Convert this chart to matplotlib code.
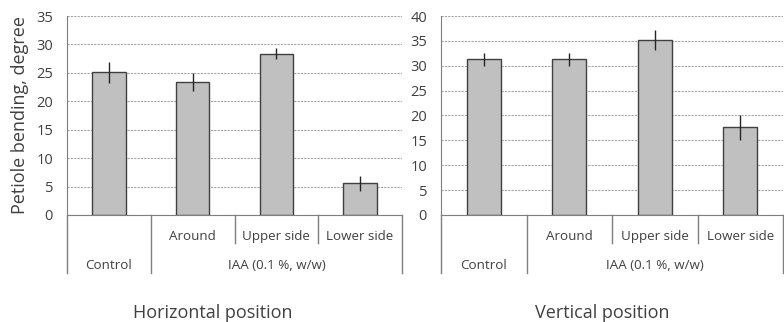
import matplotlib.pyplot as plt
import numpy as np

plt.rcParams['font.family'] = ['Open Sans', 'DejaVu Sans']

sub_labels = ['', 'Around', 'Upper side', 'Lower side']
group_labels = ['Control', 'IAA (0.1 %, w/w)']

horiz_mean = [25.1, 23.4, 28.4, 5.6]
horiz_err = [1.8, 1.6, 1.0, 1.3]
vert_mean = [31.3, 31.3, 35.1, 17.6]
vert_err = [1.3, 1.3, 2.0, 2.6]

txt = '#404040'
line = '#7f7f7f'

fig = plt.figure(figsize=(7.84, 3.22), dpi=100)
W, H = 784.0, 322.0


def panel(px_left, px_right, ymax, means, errs, title, title_x):
    ax = fig.add_axes([px_left / W, (H - 215) / H, (px_right - px_left) / W, 199 / H])
    x = np.arange(len(means))
    ax.bar(x, means, width=0.4, color='#c0c0c0', edgecolor='#404040', linewidth=1.0, zorder=3)
    ax.errorbar(x, means, yerr=errs, fmt='none', ecolor='#262626', elinewidth=1.0, capsize=0, zorder=4)
    ax.set_xlim(-0.5, 3.5)
    ax.set_ylim(0, ymax)
    ax.set_yticks(np.arange(0, ymax + 1, 5))
    ax.yaxis.grid(True, linestyle=(0, (2, 1)), color='#a6a6a6', linewidth=0.8, zorder=0)
    ax.tick_params(axis='y', length=0, pad=10, labelsize=10.5, labelcolor=txt)
    ax.set_xticks([])
    for s in ['top', 'right']:
        ax.spines[s].set_visible(False)
    ax.spines['left'].set_color(line)
    ax.spines['bottom'].set_color(line)
    tr = ax.get_xaxis_transform()
    # category dividers under the axis
    for xv, ybot in [(-0.5, -0.291), (0.5, -0.291), (1.5, -0.141), (2.5, -0.141), (3.5, -0.291)]:
        ax.plot([xv, xv], [0, ybot], transform=tr, color=line, linewidth=1.0, clip_on=False)
    for i, lab in enumerate(sub_labels):
        if lab:
            ax.text(i, -0.108, lab, transform=tr, ha='center', va='center', fontsize=9.6, color=txt)
    ax.text(0, -0.252, group_labels[0], transform=tr, ha='center', va='center', fontsize=9.6, color=txt)
    ax.text(2, -0.252, group_labels[1], transform=tr, ha='center', va='center', fontsize=9.6, color=txt)
    fig.text(title_x / W, (H - 313) / H, title, ha='center', va='center', fontsize=13, color=txt)
    return ax


ax1 = panel(67, 402, 35, horiz_mean, horiz_err, 'Horizontal position', 213)
ax2 = panel(441, 783, 40, vert_mean, vert_err, 'Vertical position', 602)
ax1.set_ylabel('Petiole bending, degree', fontsize=13, color=txt, labelpad=5)

fig.savefig('out.png', dpi=100)
